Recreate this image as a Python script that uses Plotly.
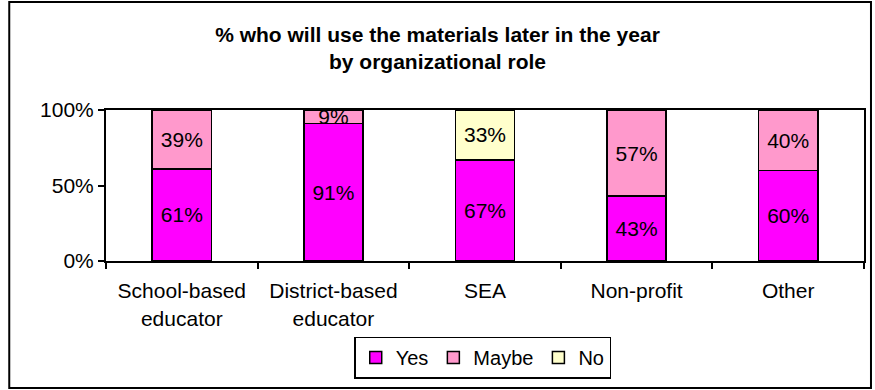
import plotly.graph_objects as go

categories = ["School-based<br>educator", "District-based<br>educator", "SEA", "Non-profit", "Other"]
yes_vals = [61, 91, 67, 43, 60]
maybe_vals = [39, 9, 0, 57, 40]
no_vals = [0, 0, 33, 0, 0]
y_ticks = [0, 50, 100]
y_tick_labels = ["0%", "50%", "100%"]

FONT = "Liberation Sans, Arial, sans-serif"

def labels(vals):
    return [f"{v}%" if v > 0 else "" for v in vals]

fig = go.Figure()
for name, vals, color in [("Yes", yes_vals, "#FF00FF"),
                          ("Maybe", maybe_vals, "#FF99CC"),
                          ("No", no_vals, "#FFFFCC")]:
    fig.add_trace(go.Bar(
        x=categories, y=vals, name=name,
        marker=dict(color=color, line=dict(color="black", width=1.5)),
        text=labels(vals), textposition="inside", insidetextanchor="middle",
        textfont=dict(family=FONT, size=21, color="black"),
        constraintext="none", cliponaxis=False,
    ))

fig.update_layout(
    barmode="stack",
    bargap=0.61,
    width=875, height=390,
    margin=dict(l=106, r=9, t=110, b=129),
    paper_bgcolor="white", plot_bgcolor="white",
    font=dict(family=FONT, size=21, color="black"),
    uniformtext=dict(mode=False),
    title=dict(
        text="<b>% who will use the materials later in the year<br>by organizational role</b>",
        x=0.5, xanchor="center", y=0.893, yanchor="middle",
        font=dict(family=FONT, size=21, color="black"),
    ),
    showlegend=True,
    legend=dict(
        orientation="h", x=0.497, xanchor="center", y=-0.5, yanchor="top",
        bordercolor="black", borderwidth=1.5,
        font=dict(family=FONT, size=20, color="black"),
        traceorder="normal", itemwidth=30,
    ),
    shapes=[dict(type="rect", xref="paper", yref="paper",
                 x0=(9 - 106) / 760, x1=(873 - 106) / 760,
                 y0=-(388 - 261) / 151, y1=(261 - 2) / 151,
                 line=dict(color="black", width=2))],
)
fig.update_xaxes(
    showline=True, linecolor="black", linewidth=2, mirror=True,
    ticks="outside", ticklen=6, tickwidth=1.5, tickcolor="black",
    tickson="boundaries", showgrid=False, ticklabelstandoff=10,
    tickfont=dict(family=FONT, size=21, color="black"),
)
fig.update_yaxes(
    range=[0, 100], tickvals=y_ticks, ticktext=y_tick_labels,
    showline=True, linecolor="black", linewidth=2, mirror=True,
    ticks="outside", ticklen=6, tickwidth=1.5, tickcolor="black",
    showgrid=False, zeroline=False,
    tickfont=dict(family=FONT, size=21, color="black"),
)

fig.write_html("out.html")
